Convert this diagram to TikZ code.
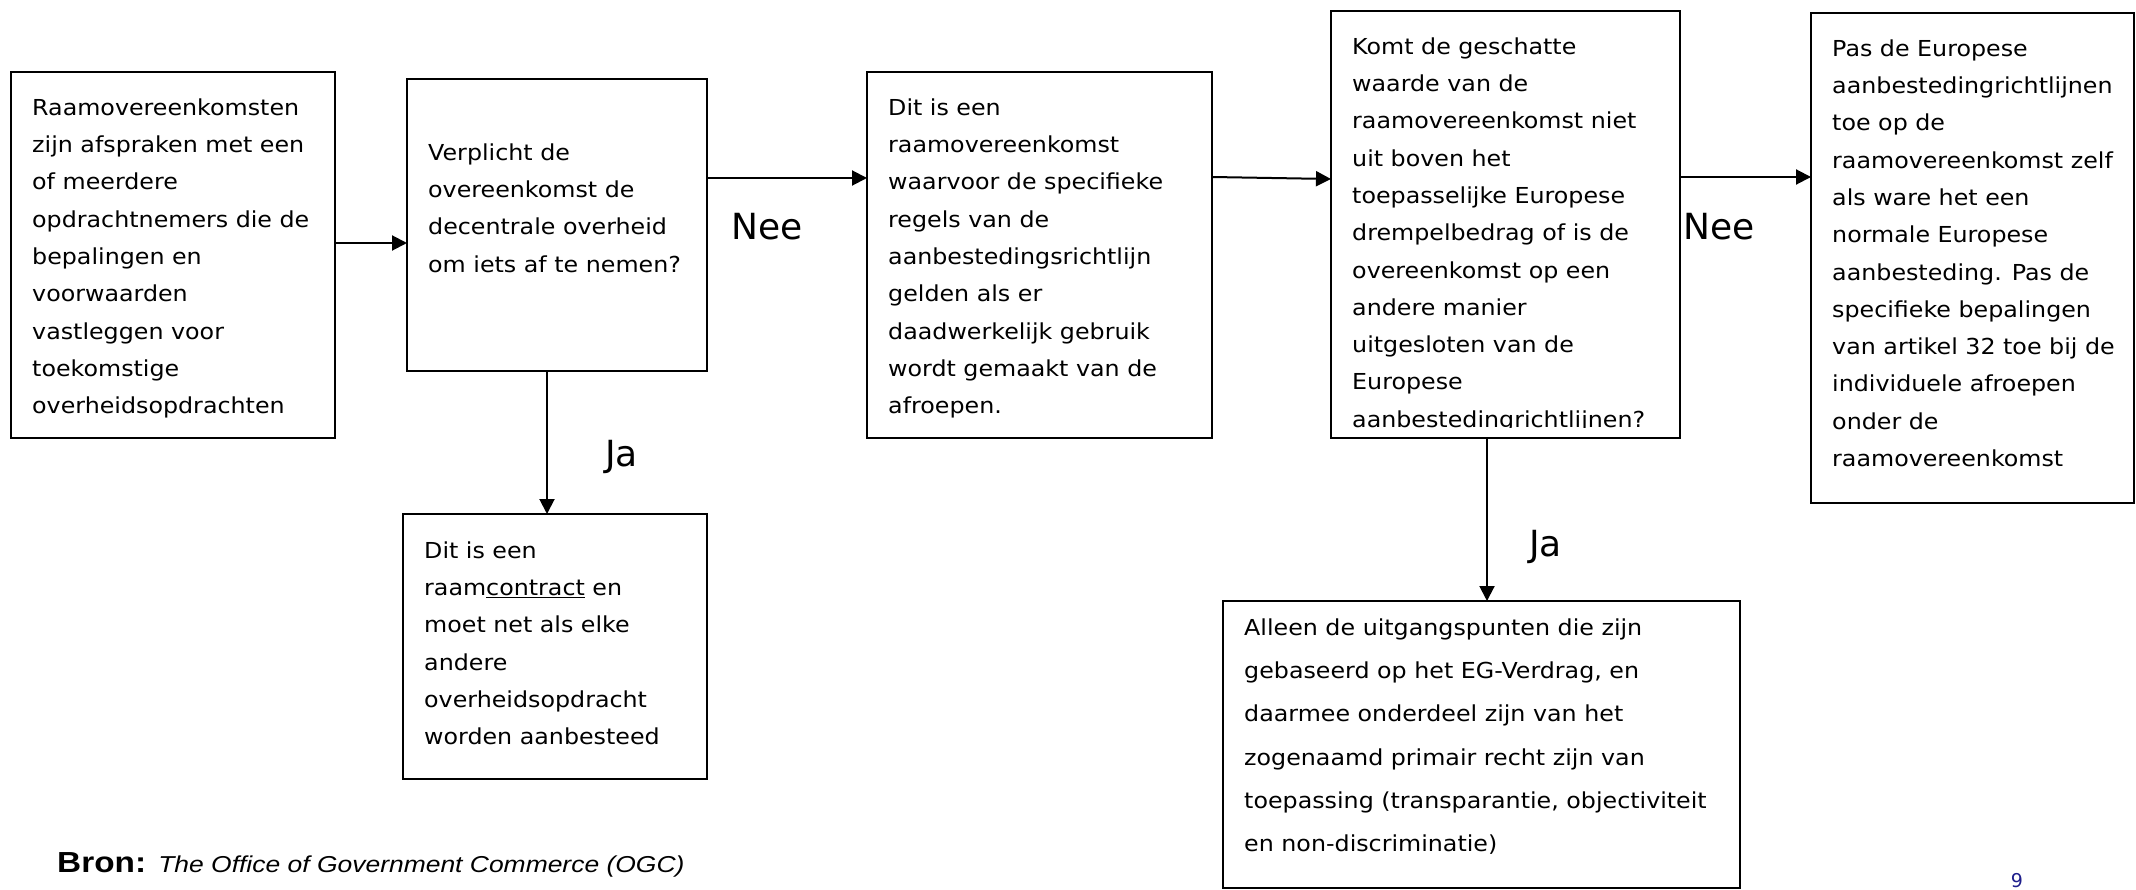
\documentclass[tikz,border=0pt]{standalone}
\usepackage{fontspec}
\usetikzlibrary{arrows.meta}
\newfontfamily\vfont[FakeStretch=1.08]{DejaVu Sans}
\newfontfamily\lblfont{DejaVu Sans}
\newfontfamily\bronfont[FakeStretch=1.15]{Liberation Sans}
\definecolor{pagenavy}{RGB}{30,30,140}
\tikzset{
  box/.style={draw=black, line width=2pt, rectangle, inner sep=0pt, outer sep=0pt},
  txt/.style={anchor=north west, inner sep=0pt, align=left, font=\vfont\fontsize{22}{37.3}\selectfont},
  txtwide/.style={anchor=north west, inner sep=0pt, align=left, font=\vfont\fontsize{22}{43.3}\selectfont},
  lbl/.style={anchor=base west, inner sep=0pt, font=\lblfont\fontsize{36}{40}\selectfont},
  arr/.style={line width=2pt, -{Triangle[length=15pt,width=15pt]}}
}
\newcommand{\fl}{\rule{0pt}{25pt}}
\begin{document}
\begin{tikzpicture}[x=1pt,y=-1pt]
\useasboundingbox (0,0) rectangle (2136,890);

% boxes
\node[box, minimum width=324pt, minimum height=366pt] (b1) at (173,255) {};
\node[box, minimum width=300pt, minimum height=292pt] (b2) at (557,225) {};
\node[box, minimum width=345pt, minimum height=366pt] (b3) at (1039.5,255) {};
\node[box, minimum width=349pt, minimum height=427pt] (b4) at (1505.5,224.5) {};
\node[box, minimum width=323pt, minimum height=490pt] (b5) at (1972.5,258) {};
\node[box, minimum width=304pt, minimum height=265pt] (b6) at (555,646.5) {};
\node[box, minimum width=517pt, minimum height=287pt] (b7) at (1481.5,744.5) {};

% texts
\node[txt] (t1) at (32,90) {\fl Raamovereenkomsten\\zijn afspraken met een\\of meerdere\\opdrachtnemers die de\\bepalingen en\\voorwaarden\\vastleggen voor\\toekomstige\\overheidsopdrachten};
\node[txt] (t2) at (428,135) {\fl Verplicht de\\overeenkomst de\\decentrale overheid\\om iets af te nemen?};
\node[txt] (t3) at (888,90) {\fl Dit is een\\raamovereenkomst\\waarvoor de specifieke\\regels van de\\aanbestedingsrichtlijn\\gelden als er\\daadwerkelijk gebruik\\wordt gemaakt van de\\afroepen.};
\begin{scope}
\clip (1332,12) rectangle (1679,427);
\node[txt] (t4) at (1352,29) {\fl Komt de geschatte\\waarde van de\\raamovereenkomst niet\\uit boven het\\toepasselijke Europese\\drempelbedrag of is de\\overeenkomst op een\\andere manier\\uitgesloten van de\\Europese\\aanbestedingrichtlijnen?};
\end{scope}
\node[txt] (t5) at (1832,31) {\fl Pas de Europese\\aanbestedingrichtlijnen\\toe op de\\raamovereenkomst zelf\\als ware het een\\normale Europese\\aanbesteding. Pas de\\specifieke bepalingen\\van artikel 32 toe bij de\\individuele afroepen\\onder de\\raamovereenkomst};
\node[txt] (t6) at (424,533) {\fl Dit is een\\raam\underline{contract} en\\moet net als elke\\andere\\overheidsopdracht\\worden aanbesteed};
\node[txtwide] (t7) at (1244,610) {\fl Alleen de uitgangspunten die zijn\\gebaseerd op het EG-Verdrag, en\\daarmee onderdeel zijn van het\\zogenaamd primair recht zijn van\\toepassing (transparantie, objectiviteit\\en non-discriminatie)};

% helper coordinates
\coordinate (h243) at (0,243);
\coordinate (h178) at (0,178);
\coordinate (h177) at (0,177);
\coordinate (h179) at (0,179);
\coordinate (v547) at (547,0);
\coordinate (v1487) at (1487,0);

% connectors
\draw[arr] (b1.east |- h243) -- (b2.west |- h243);
\draw[arr] (b2.east |- h178) -- (b3.west |- h178);
\draw[arr] (b3.east |- h177) -- (b4.west |- h179);
\draw[arr] (b4.east |- h177) -- (b5.west |- h177);
\draw[arr] (b2.south -| v547) -- (b6.north -| v547);
\draw[arr] (b4.south -| v1487) -- (b7.north -| v1487);

% labels
\node[lbl] (nee1) at (731,240) {Nee};
\node[lbl] (nee2) at (1683,240) {Nee};
\node[lbl] (ja1) at (605,466) {Ja};
\node[lbl] (ja2) at (1529,556) {Ja};

% source and page number
\node[anchor=base west, inner sep=0pt] (bron) at (57,872) {\bronfont\fontsize{29}{30}\selectfont\bfseries Bron:\hspace{0.42em}\fontsize{23}{30}\selectfont\mdseries\itshape The Office of Government Commerce (OGC)};
\node[anchor=base, inner sep=0pt, text=pagenavy, font=\lblfont\fontsize{19}{20}\selectfont] (pg) at (2017,887) {9};
\end{tikzpicture}
\end{document}
